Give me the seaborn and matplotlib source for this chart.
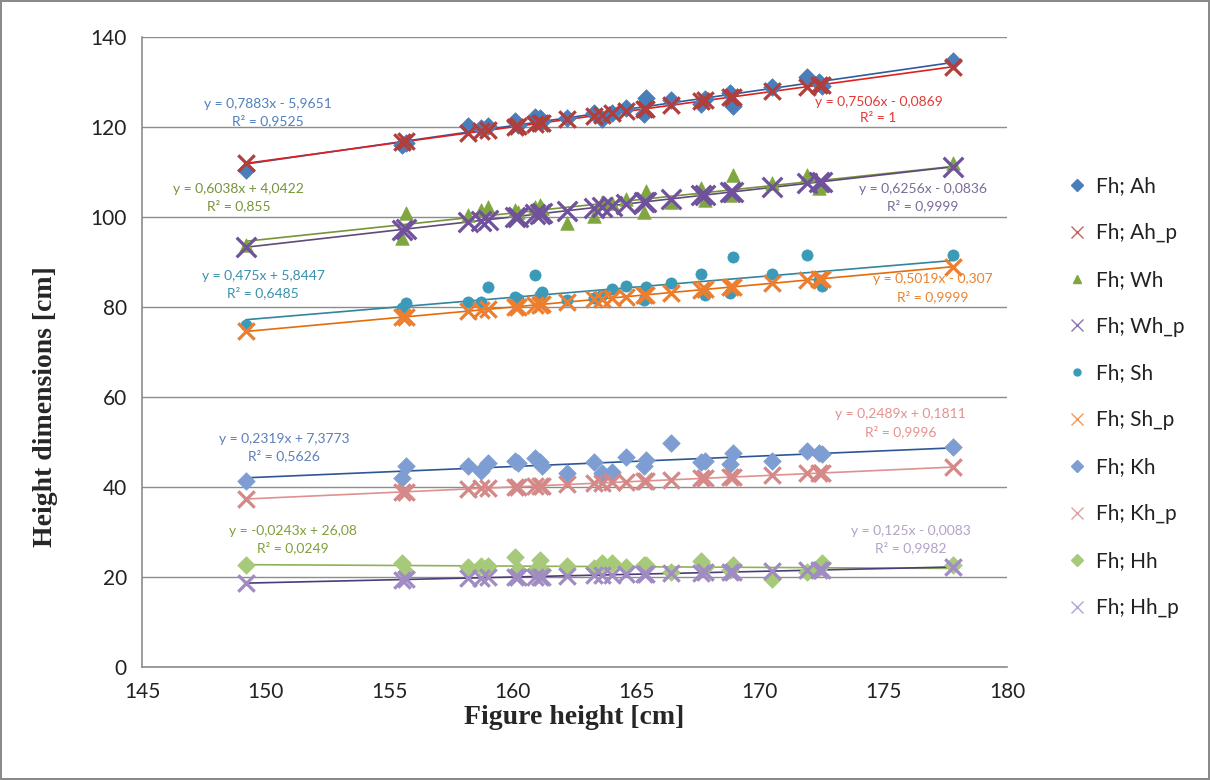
import numpy as np
import pandas as pd
import matplotlib
matplotlib.use("Agg")
import matplotlib.pyplot as plt
from matplotlib.lines import Line2D
import seaborn as sns

# figure height (x) shared by every series
fh = [149.2, 155.5, 155.7, 158.2, 158.7, 159.0, 160.1, 160.2, 160.9, 161.1,
      161.2, 162.2, 163.3, 163.6, 164.0, 164.6, 165.3, 165.4, 166.4, 167.6,
      167.8, 168.8, 168.9, 170.5, 171.9, 172.4, 172.5, 177.8]

ah = [110.5, 116.0, 116.5, 120.2, 119.7, 120.2, 121.3, 120.5, 122.2, 121.9,
      121.3, 121.9, 123.0, 121.7, 123.2, 124.2, 122.9, 126.4, 126.1, 125.2,
      126.2, 127.6, 124.6, 128.9, 131.2, 129.9, 129.2, 134.6]
ah_p = [111.9, 116.6, 116.8, 118.7, 119.0, 119.3, 120.1, 120.2, 120.7, 120.8,
        120.9, 121.7, 122.5, 122.7, 123.0, 123.5, 124.0, 124.1, 124.8, 125.7,
        125.9, 126.6, 126.7, 127.9, 128.9, 129.3, 129.4, 133.4]
wh = [93.8, 95.3, 100.8, 100.4, 101.6, 102.3, 101.6, 101.2, 102.3, 102.7,
      102.0, 98.6, 100.2, 103.4, 103.0, 104.1, 101.0, 105.8, 103.4, 106.4,
      103.8, 104.9, 109.3, 107.5, 109.3, 106.4, 107.0, 112.0]
wh_p = [93.3, 97.2, 97.3, 98.9, 99.2, 99.4, 100.1, 100.1, 100.6, 100.7,
        100.8, 101.4, 102.1, 102.3, 102.5, 102.9, 103.3, 103.4, 104.0, 104.8,
        104.9, 105.5, 105.6, 106.6, 107.5, 107.8, 107.8, 111.1]
sh = [76.0, 79.7, 80.8, 81.2, 81.2, 84.5, 82.2, 81.8, 87.0, 82.7,
      83.4, 81.5, 82.0, 82.7, 83.9, 84.7, 81.6, 84.5, 85.3, 87.3,
      82.7, 83.0, 91.1, 87.3, 91.5, 86.0, 84.7, 91.5]
sh_p = [74.6, 77.7, 77.8, 79.1, 79.3, 79.5, 80.0, 80.1, 80.4, 80.5,
        80.6, 81.1, 81.7, 81.8, 82.0, 82.3, 82.7, 82.7, 83.2, 83.8,
        83.9, 84.4, 84.5, 85.3, 86.0, 86.2, 86.3, 88.9]
kh = [41.3, 42.1, 44.7, 44.7, 43.6, 45.3, 45.8, 45.3, 46.5, 45.6,
      44.7, 43.2, 45.5, 43.0, 43.4, 46.7, 44.7, 46.0, 49.8, 45.5,
      45.8, 45.1, 47.5, 45.8, 48.0, 47.6, 47.4, 48.9]
kh_p = [37.3, 38.9, 38.9, 39.6, 39.7, 39.8, 40.0, 40.1, 40.2, 40.3,
        40.3, 40.6, 40.8, 40.9, 41.0, 41.1, 41.3, 41.3, 41.6, 41.9,
        41.9, 42.2, 42.2, 42.6, 43.0, 43.1, 43.1, 44.4]
hh = [22.7, 23.2, 21.2, 22.3, 22.4, 22.4, 24.5, 21.6, 21.6, 23.8,
      21.6, 22.4, 21.9, 23.0, 23.0, 22.3, 22.6, 22.6, 21.0, 23.6,
      22.3, 21.6, 22.6, 19.5, 21.1, 22.0, 23.0, 22.7]
hh_p = [18.6, 19.4, 19.5, 19.8, 19.8, 19.9, 20.0, 20.0, 20.1, 20.1,
        20.1, 20.3, 20.4, 20.4, 20.5, 20.6, 20.7, 20.7, 20.8, 20.9,
        21.0, 21.1, 21.1, 21.3, 21.5, 21.5, 21.6, 22.2]

labels = ["Fh; Ah", "Fh; Ah_p", "Fh; Wh", "Fh; Wh_p", "Fh; Sh",
          "Fh; Sh_p", "Fh; Kh", "Fh; Kh_p", "Fh; Hh", "Fh; Hh_p"]
equations = ["y = 0,7883x - 5,9651\nR² = 0,9525",
             "y = 0,7506x - 0,0869\nR² = 1",
             "y = 0,6038x + 4,0422\nR² = 0,855",
             "y = 0,6256x - 0,0836\nR² = 0,9999",
             "y = 0,475x + 5,8447\nR² = 0,6485",
             "y = 0,5019x - 0,307\nR² = 0,9999",
             "y = 0,2319x + 7,3773\nR² = 0,5626",
             "y = 0,2489x + 0,1811\nR² = 0,9996",
             "y = -0,0243x + 26,08\nR² = 0,0249",
             "y = 0,125x - 0,0083\nR² = 0,9982"]
series = [ah, ah_p, wh, wh_p, sh, sh_p, kh, kh_p, hh, hh_p]

# styling per series: marker, marker colour, trendline colour, label colour, label pos, size
styles = [
    ("D", "#4A7EBB", "#2F5C9A", "#4F81BD", (150.1, 123.3), 80),
    ("x", "#B03E3C", "#E0201E", "#E03A36", (174.8, 123.8), 140),
    ("^", "#7FA63F", "#77933C", "#77933C", (148.9, 104.4), 95),
    ("x", "#6F529B", "#604A7B", "#7A6A98", (176.6, 104.4), 200),
    ("o", "#3A9AB8", "#31859C", "#3A90AE", (149.9, 84.9), 65),
    ("x", "#EE7E2F", "#E46C0A", "#E8822E", (177.0, 84.2), 140),
    ("D", "#7E9ED3", "#2F5597", "#5C7FBA", (150.75, 48.7), 80),
    ("x", "#D48988", "#E0908E", "#E6908E", (175.7, 54.2), 140),
    ("D", "#A6C97A", "#8DB356", "#7FA03C", (151.1, 28.4), 80),
    ("x", "#A08CC3", "#4D3B7A", "#B3A2C7", (176.1, 28.4), 140),
]

sns.set_style("white")
plt.rcParams["font.family"] = ["Lato", "DejaVu Sans"]

fig = plt.figure(figsize=(12.1, 7.8), dpi=100)
fig.patch.set_edgecolor("#8a8a8a")
fig.patch.set_linewidth(1.5)
ax = fig.add_axes([0.1174, 0.1449, 0.7148, 0.8077])

for vals, (mk, mc, lc, tc, pos, sz) in zip(series, styles):
    df = pd.DataFrame({"fh": fh, "v": vals})
    sns.regplot(data=df, x="fh", y="v", scatter=False, ci=None, ax=ax,
                line_kws={"color": lc, "lw": 1.2, "zorder": 3})
for vals, (mk, mc, lc, tc, pos, sz) in zip(series, styles):
    df = pd.DataFrame({"fh": fh, "v": vals})
    if mk == "x":
        sns.scatterplot(data=df, x="fh", y="v", marker="x", s=sz, color=mc,
                        linewidth=2.3, ax=ax, zorder=4)
    else:
        sns.scatterplot(data=df, x="fh", y="v", marker=mk, s=sz, color=mc,
                        edgecolor=mc, linewidth=0.5, ax=ax, zorder=4)

for eq, (mk, mc, lc, tc, pos, sz) in zip(equations, styles):
    ax.text(pos[0], pos[1], eq, color=tc, fontsize=10, ha="center",
            va="center", linespacing=1.4, multialignment="center", zorder=5)

ax.set_xlim(145, 180)
ax.set_ylim(0, 140)
ax.set_xticks(np.arange(145, 181, 5))
ax.set_yticks(np.arange(0, 141, 20))
ax.grid(axis="y", color="#8c8c8c", lw=1.0)
ax.grid(axis="x", visible=False)
for s in ["top", "right"]:
    ax.spines[s].set_visible(False)
for s in ["left", "bottom"]:
    ax.spines[s].set_color("#8c8c8c")
    ax.spines[s].set_linewidth(1.2)
ax.tick_params(axis="both", direction="out", length=5, color="#8c8c8c",
               labelsize=15, labelcolor="#222222", pad=6)

ax.set_xlabel("Figure height [cm]", fontsize=20, fontweight="bold",
              family="Liberation Serif", va="center")
ax.set_ylabel("Height dimensions [cm]", fontsize=20, fontweight="bold",
              family="Liberation Serif", va="center")
ax.xaxis.set_label_coords(0.5, -0.08)
ax.yaxis.set_label_coords(-0.112, 0.413)

handles = []
for lab, (mk, mc, lc, tc, pos, sz) in zip(labels, styles):
    if mk == "x":
        h = Line2D([], [], ls="none", marker="x", ms=9, mew=1.0, color=mc,
                   alpha=0.8)
    else:
        h = Line2D([], [], ls="none", marker=mk, ms=6 if mk != "o" else 5,
                   color=mc, mec=mc)
    handles.append(h)
fig.legend(handles, labels, loc="center left", bbox_to_anchor=(0.866, 0.491),
           frameon=False, fontsize=15, labelspacing=1.29, handlelength=1.0,
           handletextpad=0.4, labelcolor="#222222")

fig.savefig("out.png", dpi=100)
